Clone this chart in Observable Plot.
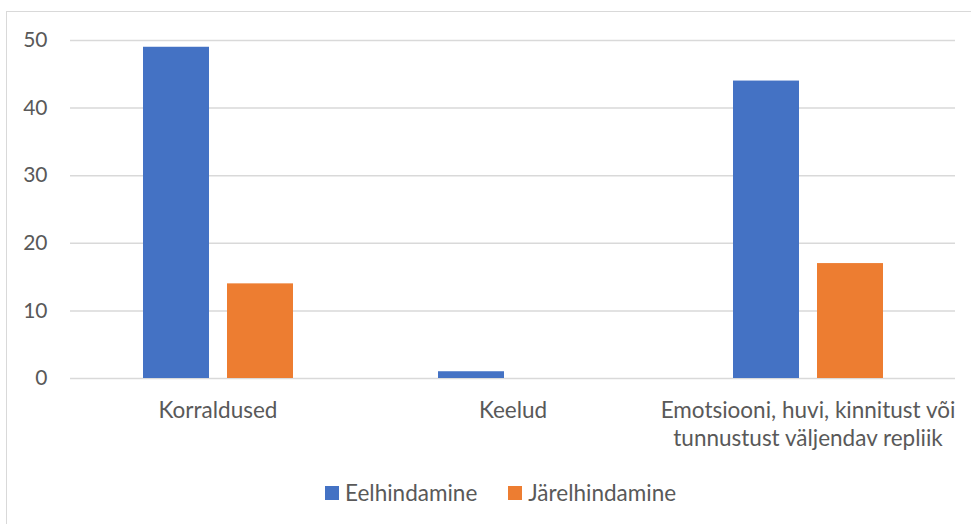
<!DOCTYPE html>
<html>
<head>
<meta charset="utf-8">
<script src="https://cdn.jsdelivr.net/npm/d3@7"></script>
<script src="https://cdn.jsdelivr.net/npm/@observablehq/plot@0.6"></script>
<style>
  html, body { margin: 0; padding: 0; background: #fff; }
  body { width: 971px; height: 524px; overflow: hidden; position: relative; font-family: Lato, "Open Sans", sans-serif; }
  #frame { position: absolute; left: 6px; top: 11px; width: 1000px; height: 600px; border: 1px solid #d9d9d9; box-sizing: border-box; }
  #chart { position: absolute; left: 0; top: 0; }
  #legend { position: absolute; left: 325px; top: 479px; display: flex; align-items: center; font-size: 22.5px; color: #595959; }
  .item { display: flex; align-items: center; margin-right: 31px; }
  .swatch { width: 14px; height: 14px; margin-right: 6px; }
</style>
</head>
<body>
<div id="frame"></div>
<div id="chart"></div>
<div id="legend"></div>
<script>
// Categories, series names and counts for the grouped bars
const categories = ["Korraldused", "Keelud", "Emotsiooni, huvi, kinnitust või tunnustust väljendav repliik"];
const seriesNames = ["Eelhindamine", "Järelhindamine"];
const eelhindamine = [49, 1, 44];
const jarelhindamine = [14, 0, 17];
const yTicks = [0, 10, 20, 30, 40, 50];
const colors = ["#4472C4", "#ED7D31"];

const data = categories.flatMap((c, i) => [
  {category: c, series: seriesNames[0], value: eelhindamine[i]},
  {category: c, series: seriesNames[1], value: jarelhindamine[i]}
]);

// Break long category names into lines of at most ~31 characters
function wrap(s) {
  const words = s.split(" ");
  const lines = [];
  let line = "";
  for (const w of words) {
    if (line && (line + " " + w).length > 31) { lines.push(line); line = w; }
    else line = line ? line + " " + w : w;
  }
  if (line) lines.push(line);
  return lines.join("\n");
}

const chart = Plot.plot({
  width: 971,
  height: 470,
  marginLeft: 70,
  marginRight: 16,
  marginTop: 40,
  marginBottom: 92,
  style: {fontFamily: "Lato, 'Open Sans', sans-serif", fontSize: "22px", color: "#595959", background: "transparent"},
  fx: {domain: categories, padding: 0, axis: null},
  x: {domain: seriesNames, axis: null, paddingInner: 0.2143, paddingOuter: 0.863},
  y: {domain: [0, 50], axis: null},
  color: {domain: seriesNames, range: colors},
  marks: [
    Plot.gridY(yTicks, {stroke: "#d9d9d9", strokeOpacity: 1, strokeWidth: 1.5}),
    Plot.axisY(yTicks, {tickSize: 0, tickPadding: 23, label: null, fill: "#595959", fontSize: 21}),
    Plot.barY(data, {fx: "category", x: "series", y: "value", fill: "series"}),
    Plot.axisFx({anchor: "bottom", tickSize: 0, tickPadding: 19, label: null, tickFormat: wrap, lineHeight: 1.27, fill: "#595959", fontSize: 22.5})
  ]
});
document.getElementById("chart").appendChild(chart);

// Legend below the plot
const legend = document.getElementById("legend");
seriesNames.forEach((name, i) => {
  const item = document.createElement("div");
  item.className = "item";
  const sw = document.createElement("div");
  sw.className = "swatch";
  sw.style.background = colors[i];
  const label = document.createElement("span");
  label.textContent = name;
  item.append(sw, label);
  legend.appendChild(item);
});
</script>
</body>
</html>
